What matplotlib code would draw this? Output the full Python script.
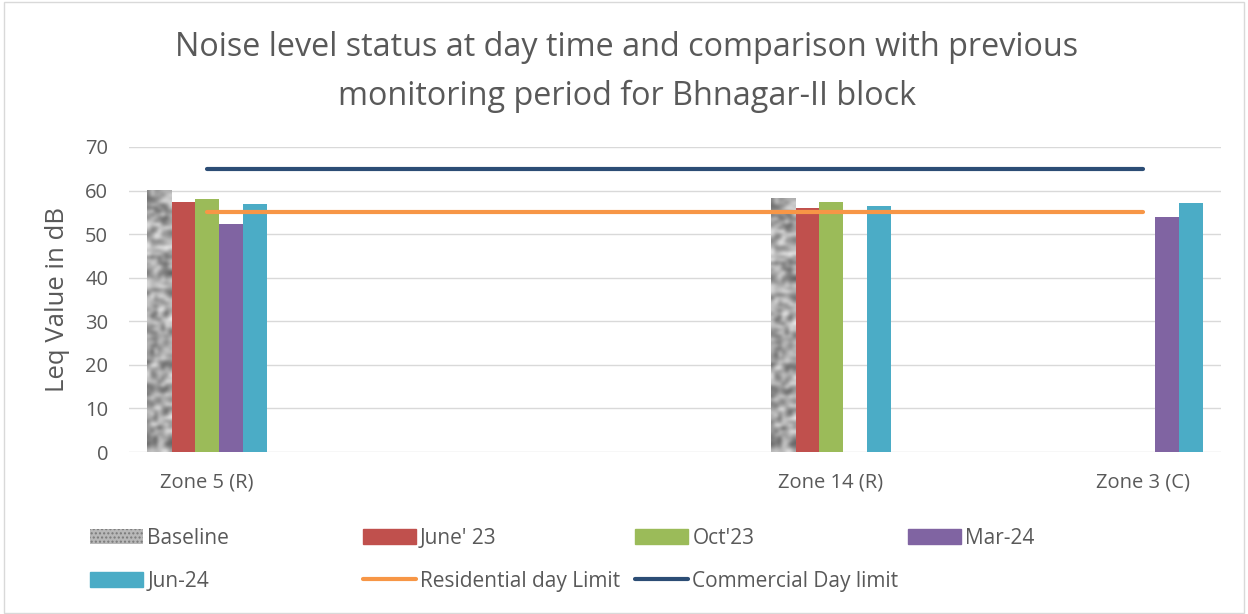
import numpy as np
import matplotlib.pyplot as plt
from matplotlib.patches import Patch, Rectangle
from matplotlib.lines import Line2D

plt.rcParams['font.family'] = ['Open Sans', 'DejaVu Sans']

# %%
# data (blank slot between Zone 5 and Zone 14 as in the source sheet)
categories = ['Zone 5 (R)', '', 'Zone 14 (R)', 'Zone 3 (C)']
baseline = [60.0, np.nan, 58.2, np.nan]
june23 = [57.4, np.nan, 55.9, np.nan]
oct23 = [58.0, np.nan, 57.4, np.nan]
mar24 = [52.4, np.nan, np.nan, 54.0]
jun24 = [56.9, np.nan, 56.4, 57.1]
residential_limit = [55, 55, 55, 55]
commercial_limit = [65, 65, 65, 65]

series_names = ['Baseline', "June' 23", "Oct'23", 'Mar-24', 'Jun-24']
series_vals = [baseline, june23, oct23, mar24, jun24]
series_cols = ['#a9a9a9', '#c0504d', '#9bbb59', '#8064a2', '#4bacc6']
txt_col = '#595959'
grid_col = '#d9d9d9'

# %%
fig = plt.figure(figsize=(12.48, 6.14), dpi=100)
ax = fig.add_axes([129/1248, 1-452/614, 1092/1248, 305/614])

x = np.arange(len(categories))
w = 0.077
bars = []
for i, (vals, col) in enumerate(zip(series_vals, series_cols)):
    b = ax.bar(x + (i - 2)*w, vals, w, color=col, zorder=2, linewidth=0)
    bars.append(b)

# mottled texture for the baseline bars (deterministic hash noise)
yy, xx = np.mgrid[0:80, 0:7]
tex = np.sin(xx*12.9898 + yy*78.233)*43758.5453
tex = tex - np.floor(tex)
tex = (2*tex + np.roll(tex, 1, 0) + np.roll(tex, 1, 1))/4
for r in bars[0]:
    h = r.get_height()
    if np.isnan(h):
        continue
    ax.imshow(tex, cmap='gray', vmin=-0.35, vmax=0.95, aspect='auto',
              interpolation='bicubic', zorder=2.1,
              extent=(r.get_x(), r.get_x() + r.get_width(), 0, h))

ax.plot(x, residential_limit, color='#f79646', lw=3, solid_capstyle='round', zorder=3)
ax.plot(x, commercial_limit, color='#2c4d75', lw=3, solid_capstyle='round', zorder=3)

ax.set_xlim(-0.25, 3.25)
ax.set_ylim(0, 70)
ax.set_yticks(range(0, 71, 10))
ax.set_xticks(x)
ax.set_xticklabels(categories)
ax.yaxis.grid(True, color=grid_col, lw=1)
ax.set_axisbelow(True)
for s in ax.spines.values():
    s.set_visible(False)
ax.tick_params(axis='both', length=0, labelsize=14.5, labelcolor=txt_col)
ax.tick_params(axis='y', pad=15)
ax.tick_params(axis='x', pad=15)

fig.text(58/1248, 1-299/614, 'Leq Value in dB', rotation=90, ha='center', va='center',
         fontsize=18.5, color=txt_col)
fig.text(627/1248, 1-72/614,
         'Noise level status at day time and comparison with previous\nmonitoring period for Bhnagar-II block',
         ha='center', va='center', fontsize=23.3, color=txt_col, linespacing=1.6)

# legend, laid out in 4 equal columns like the spreadsheet
h_base = Patch(facecolor='#b8b8b8', edgecolor='#7a7a7a', hatch='....', lw=0)
h_june = Patch(color=series_cols[1])
h_oct = Patch(color=series_cols[2])
h_mar = Patch(color=series_cols[3])
h_jun = Patch(color=series_cols[4])
h_res = Line2D([], [], color='#f79646', lw=3, solid_capstyle='round')
h_com = Line2D([], [], color='#2c4d75', lw=3, solid_capstyle='round')
cols = [([h_base, h_jun], ['Baseline', 'Jun-24']),
        ([h_june, h_res], ["June' 23", 'Residential day Limit']),
        ([h_oct, h_com], ["Oct'23", 'Commercial Day limit']),
        ([h_mar], ['Mar-24'])]
for k, (hs, ls) in enumerate(cols):
    fig.legend(hs, ls, loc='upper left', bbox_to_anchor=((90 + 272.5*k)/1248, 1-528/614),
               frameon=False, fontsize=15, labelcolor=txt_col, handlelength=2.55,
               handletextpad=0.2, borderpad=0, borderaxespad=0, labelspacing=1.04)

fig.add_artist(Rectangle((4/1248, 1/614), 1240/1248, 611/614, transform=fig.transFigure,
                         fill=False, edgecolor=grid_col, lw=1))

fig.savefig('out.png', dpi=100)
